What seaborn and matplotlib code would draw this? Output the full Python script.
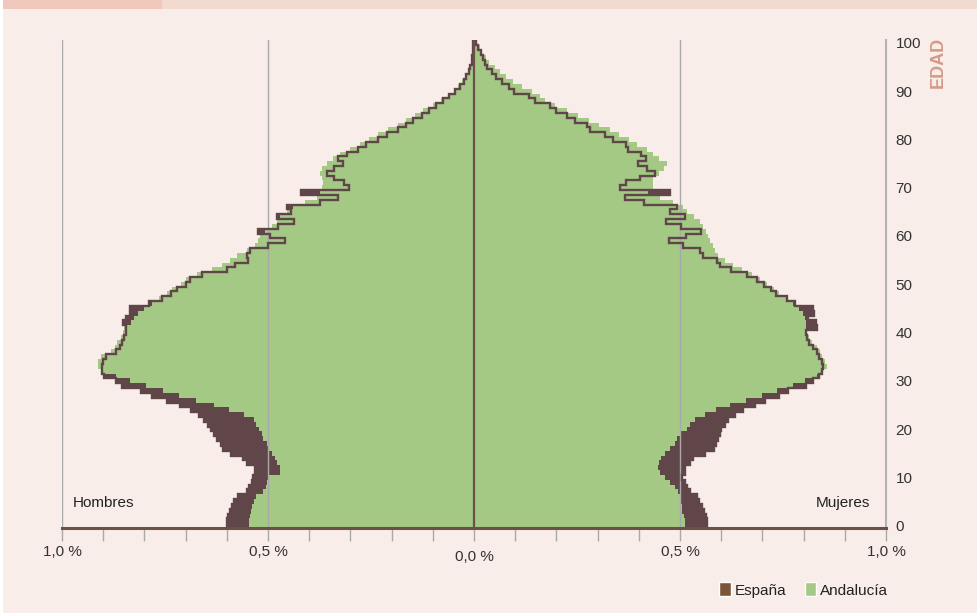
import numpy as np
import pandas as pd
import matplotlib
matplotlib.use("Agg")
import matplotlib.pyplot as plt
import seaborn as sns
from matplotlib import font_manager
from matplotlib.patches import Patch, Rectangle
from matplotlib.ticker import MultipleLocator

# Population share (%) by single year of age, 0-100
ages = list(range(101))

espana_hombres = [
    0.600, 0.600, 0.597, 0.592, 0.588, 0.583, 0.572, 0.550, 0.545, 0.540,
    0.536, 0.531, 0.531, 0.552, 0.560, 0.590, 0.610, 0.615, 0.625, 0.630,
    0.638, 0.645, 0.655, 0.668, 0.688, 0.714, 0.746, 0.782, 0.808, 0.855,
    0.868, 0.897, 0.903, 0.903, 0.900, 0.892, 0.870, 0.860, 0.855, 0.850,
    0.845, 0.845, 0.851, 0.845, 0.835, 0.835, 0.790, 0.757, 0.735, 0.722,
    0.700, 0.690, 0.661, 0.600, 0.580, 0.548, 0.552, 0.544, 0.499, 0.459,
    0.495, 0.524, 0.475, 0.437, 0.479, 0.443, 0.455, 0.374, 0.329, 0.420,
    0.303, 0.316, 0.339, 0.358, 0.339, 0.319, 0.329, 0.309, 0.281, 0.262,
    0.234, 0.212, 0.184, 0.166, 0.147, 0.127, 0.110, 0.092, 0.076, 0.060,
    0.046, 0.035, 0.025, 0.019, 0.013, 0.009, 0.006, 0.004, 0.003, 0.002,
    0.002,
]
andalucia_hombres = [
    0.545, 0.545, 0.543, 0.541, 0.538, 0.535, 0.530, 0.513, 0.505, 0.503,
    0.500, 0.472, 0.471, 0.479, 0.482, 0.491, 0.500, 0.502, 0.512, 0.515,
    0.522, 0.528, 0.535, 0.558, 0.595, 0.630, 0.675, 0.715, 0.755, 0.795,
    0.835, 0.870, 0.905, 0.912, 0.912, 0.905, 0.882, 0.872, 0.866, 0.858,
    0.852, 0.850, 0.833, 0.825, 0.815, 0.800, 0.782, 0.765, 0.745, 0.732,
    0.712, 0.700, 0.672, 0.637, 0.612, 0.592, 0.576, 0.552, 0.531, 0.524,
    0.519, 0.507, 0.491, 0.479, 0.471, 0.455, 0.440, 0.410, 0.380, 0.374,
    0.370, 0.366, 0.370, 0.374, 0.370, 0.358, 0.342, 0.326, 0.302, 0.277,
    0.254, 0.232, 0.208, 0.184, 0.164, 0.144, 0.123, 0.100, 0.080, 0.062,
    0.048, 0.038, 0.028, 0.021, 0.015, 0.010, 0.007, 0.005, 0.004, 0.003,
    0.002,
]
espana_mujeres = [
    0.565, 0.565, 0.563, 0.558, 0.553, 0.547, 0.541, 0.524, 0.516, 0.512,
    0.504, 0.512, 0.512, 0.524, 0.532, 0.561, 0.583, 0.587, 0.593, 0.597,
    0.600, 0.609, 0.617, 0.633, 0.654, 0.682, 0.706, 0.741, 0.763, 0.805,
    0.822, 0.838, 0.845, 0.848, 0.845, 0.838, 0.832, 0.822, 0.814, 0.808,
    0.806, 0.832, 0.830, 0.810, 0.825, 0.824, 0.779, 0.760, 0.733, 0.722,
    0.705, 0.687, 0.662, 0.625, 0.597, 0.589, 0.557, 0.548, 0.508, 0.473,
    0.514, 0.550, 0.502, 0.465, 0.512, 0.476, 0.492, 0.413, 0.366, 0.476,
    0.354, 0.369, 0.403, 0.439, 0.419, 0.399, 0.417, 0.405, 0.373, 0.369,
    0.338, 0.318, 0.281, 0.275, 0.245, 0.226, 0.199, 0.184, 0.148, 0.134,
    0.097, 0.086, 0.069, 0.053, 0.043, 0.032, 0.027, 0.023, 0.016, 0.010,
    0.006,
]
andalucia_mujeres = [
    0.512, 0.512, 0.510, 0.505, 0.505, 0.503, 0.500, 0.494, 0.488, 0.476,
    0.464, 0.452, 0.447, 0.450, 0.455, 0.464, 0.476, 0.488, 0.493, 0.500,
    0.516, 0.524, 0.536, 0.561, 0.587, 0.621, 0.660, 0.698, 0.735, 0.775,
    0.803, 0.832, 0.846, 0.856, 0.852, 0.844, 0.840, 0.832, 0.820, 0.812,
    0.807, 0.807, 0.807, 0.803, 0.799, 0.790, 0.775, 0.762, 0.740, 0.728,
    0.712, 0.695, 0.675, 0.650, 0.629, 0.609, 0.593, 0.585, 0.579, 0.574,
    0.569, 0.563, 0.557, 0.548, 0.534, 0.517, 0.508, 0.484, 0.451, 0.423,
    0.435, 0.435, 0.434, 0.450, 0.460, 0.468, 0.450, 0.435, 0.419, 0.395,
    0.377, 0.353, 0.330, 0.304, 0.280, 0.253, 0.226, 0.197, 0.172, 0.160,
    0.140, 0.116, 0.094, 0.078, 0.063, 0.051, 0.036, 0.028, 0.020, 0.014,
    0.008,
]

x_ticks = [-1.0, -0.5, 0.0, 0.5, 1.0]
x_tick_labels = ['1,0 %', '0,5 %', '', '0,5 %', '1,0 %']
y_ticks = list(range(0, 101, 10))

# Colours
bg = '#f8ede8'
green = '#a4c985'
dark = '#604648'
legend_brown = '#7a5538'
grid_grey = '#a9a9a9'
axis_brown = '#6b5048'
text_col = '#333333'

sns.set_theme(style='white')
names = {f.name for f in font_manager.fontManager.ttflist}
font = 'Liberation Sans Narrow' if 'Liberation Sans Narrow' in names else 'Liberation Sans'
plt.rcParams['font.family'] = [font, 'DejaVu Sans']

df = pd.DataFrame({
    'edad': ages,
    'esp_h': -np.array(espana_hombres),
    'and_h': -np.array(andalucia_hombres),
    'esp_m': np.array(espana_mujeres),
    'and_m': np.array(andalucia_mujeres),
})

fig = plt.figure(figsize=(9.78, 6.13), dpi=100, facecolor=bg)
ax = fig.add_axes([62 / 978, 1 - 528 / 613, (886 - 62) / 978, (528 - 40) / 613])
ax.set_facecolor(bg)

# España filled bars behind, Andalucía bars in front
for col, color, z in [('esp_h', dark, 1), ('esp_m', dark, 1),
                      ('and_h', green, 2), ('and_m', green, 2)]:
    sns.barplot(data=df, x=col, y='edad', orient='h', native_scale=True,
                width=1, color=color, saturation=1, errorbar=None,
                linewidth=0, edgecolor='none', ax=ax, zorder=z)

# España outline (step silhouette) on top
a = np.array(ages)
ys = np.column_stack([a - 0.5, a + 0.5]).ravel()
xl = np.repeat(df['esp_h'].values, 2)
xr = np.repeat(df['esp_m'].values, 2)
ax.plot(np.concatenate([xl, xr[::-1]]), np.concatenate([ys, ys[::-1]]),
        color=dark, lw=1.7, zorder=5, solid_joinstyle='miter')

# grid lines and centre line
for gx in [-1.0, -0.5, 0.5]:
    ax.axvline(gx, color=grid_grey, lw=1, zorder=4)
ax.axvline(0, color=axis_brown, lw=1.6, zorder=6)

ax.set_xlim(-1.0, 1.0)
ax.set_ylim(-0.5, 100.6)
ax.set_xlabel('')
ax.set_ylabel('')

ax.set_xticks(x_ticks, x_tick_labels)
ax.xaxis.set_minor_locator(MultipleLocator(0.1))
ax.tick_params(axis='x', which='both', direction='out', length=9, width=1,
               color=grid_grey, bottom=True, labelsize=11, labelcolor=text_col, pad=3)
ax.yaxis.tick_right()
ax.set_yticks(y_ticks)
ax.tick_params(axis='y', length=0, pad=7, labelsize=11, labelcolor=text_col)

for s in ['left', 'top']:
    ax.spines[s].set_visible(False)
ax.spines['right'].set_color('#b3b3b3')
ax.spines['right'].set_linewidth(1.5)
ax.spines['bottom'].set_color(axis_brown)
ax.spines['bottom'].set_linewidth(2.2)
ax.spines['bottom'].set_zorder(7)

ax.text(0, -0.06, '0,0 %', transform=ax.get_xaxis_transform(), ha='center',
        va='center', fontsize=11, color=text_col)
ax.text(-0.975, 4.6, 'Hombres', ha='left', va='center', fontsize=11, color='#222222')
ax.text(0.961, 4.6, 'Mujeres', ha='right', va='center', fontsize=11, color='#222222')

fig.text(938 / 978, 1 - 62 / 613, 'EDAD', rotation=90, ha='center', va='center',
         color='#d49a8a', fontweight='bold', fontsize=13)

handles = [Patch(facecolor=legend_brown, label='España'),
           Patch(facecolor=green, label='Andalucía')]
fig.legend(handles=handles, ncol=2, loc='center right',
           bbox_to_anchor=(888 / 978, 1 - 590 / 613), frameon=False,
           handlelength=0.75, handleheight=1.0, handletextpad=0.25,
           columnspacing=1.2, fontsize=11, borderpad=0, borderaxespad=0,
           labelcolor='#222222')

# header band (title text cut off in the original)
fig.add_artist(Rectangle((0, 1 - 9 / 613), 1, 9 / 613, transform=fig.transFigure,
                         facecolor='#f3dad0', edgecolor='none'))
fig.add_artist(Rectangle((0, 1 - 9 / 613), 162 / 978, 9 / 613, transform=fig.transFigure,
                         facecolor='#f0c9bc', edgecolor='none'))
fig.add_artist(Rectangle((0, 0), 3 / 978, 1, transform=fig.transFigure,
                         facecolor='white', edgecolor='none'))

fig.savefig('out.png', dpi=100, facecolor=bg)
